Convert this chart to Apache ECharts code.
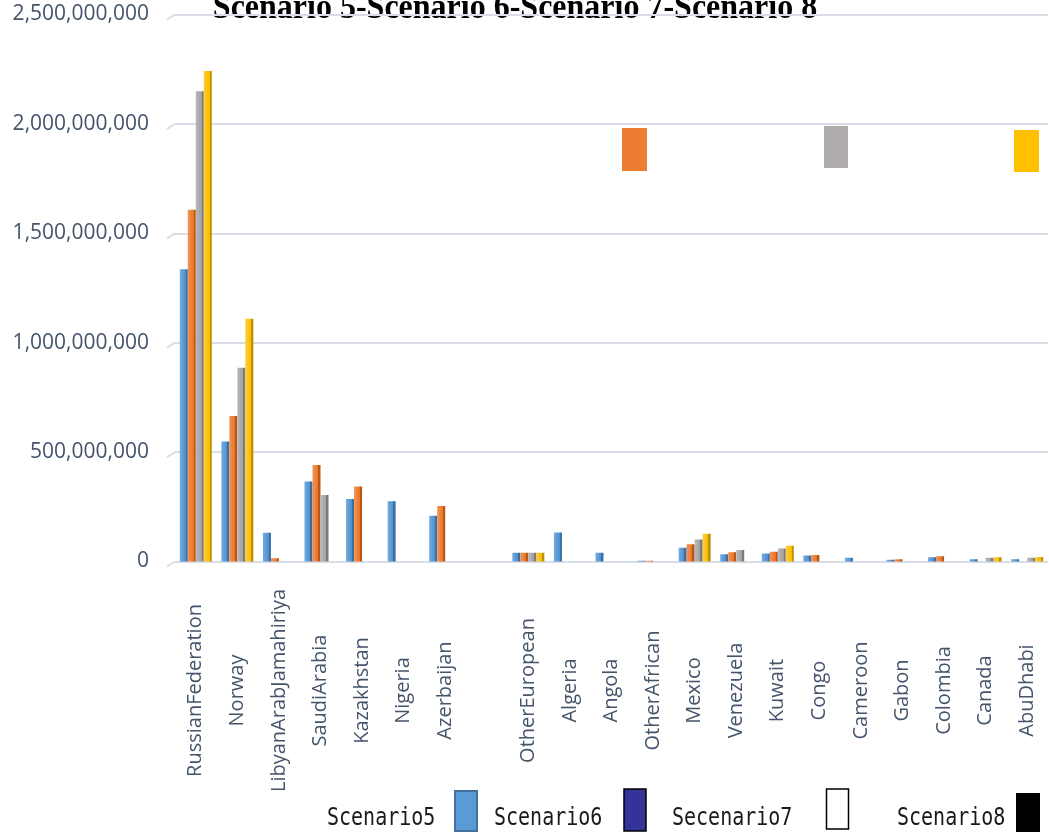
<!DOCTYPE html>
<html>
<head>
<meta charset="utf-8">
<script src="https://cdn.jsdelivr.net/npm/echarts@6/dist/echarts.min.js"></script>
<style>
  html, body { margin: 0; padding: 0; background: #ffffff; }
  #chart { width: 1049px; height: 832px; }
</style>
</head>
<body>
<div id="chart"></div>
<script>
// Producers (an empty slot separates the first group from the rest)
const categories = [
  'RussianFederation', 'Norway', 'LibyanArabJamahiriya', 'SaudiArabia', 'Kazakhstan',
  'Nigeria', 'Azerbaijan', '', 'OtherEuropean', 'Algeria', 'Angola', 'OtherAfrican',
  'Mexico', 'Venezuela', 'Kuwait', 'Congo', 'Cameroon', 'Gabon', 'Colombia', 'Canada', 'AbuDhabi'
];

const scenario5 = [1336000000, 548000000, 131000000, 366000000, 286000000, 275000000, 209000000, null,
  40000000, 132000000, 40000000, 3000000, 63000000, 33000000, 37000000, 27000000, 17000000,
  8000000, 19000000, 10000000, 10000000];
const scenario6 = [1608000000, 665000000, 15000000, 441000000, 343000000, null, 254000000, null,
  40000000, null, null, 3000000, 79000000, 42000000, 45000000, 30000000, null,
  10000000, 24000000, null, null];
const scenario7 = [2149000000, 885000000, null, 304000000, null, null, null, null,
  40000000, null, null, null, 101000000, 53000000, 59000000, null, null,
  null, null, 17000000, 17000000];
const scenario8 = [2242000000, 1109000000, null, null, null, null, null, null,
  40000000, null, null, null, 127000000, null, 72000000, null, null,
  null, null, 19000000, 20000000];

const seriesNames = ['Scenario5', 'Scenario6', 'Secenario7', 'Scenario8'];
const titleText = 'Scenario 5-Scenario 6-Scenario 7-Scenario 8';

const yMin = 0;
const yMax = 2500000000;
const yStep = 500000000;

// Shaded faces: lit front, darker right side
function face(light, base, side) {
  return new echarts.graphic.LinearGradient(0, 0, 1, 0, [
    { offset: 0, color: light },
    { offset: 0.72, color: base },
    { offset: 0.73, color: side },
    { offset: 1, color: side }
  ]);
}
const faces = [
  face('#72abde', '#4f8fd0', '#3a6fa3'),
  face('#f39456', '#ec7424', '#b5581a'),
  face('#bababa', '#a0a0a0', '#7b7b7b'),
  face('#ffcd3a', '#f6bd00', '#bf9100')
];
const values = [scenario5, scenario6, scenario7, scenario8];

const chart = echarts.init(document.getElementById('chart'), null, { renderer: 'canvas' });

const GRID_LEFT = 175;
const GRID_TOP = 14.5;
const GRID_BOTTOM = 270.5;

const legendFont = '20px "DejaVu Sans Mono"';
function legendText(x, text) {
  return {
    type: 'text', x: x, y: 818, scaleY: 1.25,
    style: { text: text, font: legendFont, fill: '#1a1a1a', verticalAlign: 'middle', align: 'left' }
  };
}

const option = {
  backgroundColor: '#ffffff',
  animation: false,
  grid: { left: GRID_LEFT, right: 1, top: GRID_TOP, bottom: GRID_BOTTOM, containLabel: false },
  xAxis: {
    type: 'category',
    data: categories,
    axisLine: { show: false },
    axisTick: { show: false },
    axisLabel: {
      interval: 0, rotate: 90, align: 'center', verticalAlign: 'middle', margin: 129,
      fontFamily: 'Open Sans', fontSize: 20, color: '#44546a'
    }
  },
  yAxis: {
    type: 'value',
    min: yMin, max: yMax, interval: yStep,
    axisLine: { show: false },
    axisTick: { show: false },
    splitLine: { lineStyle: { color: '#d9dde6', width: 2 } },
    axisLabel: {
      margin: 26, fontFamily: 'Open Sans', fontSize: 21, color: '#44546a',
      verticalAlign: 'middle', padding: [10, 0, 0, 0],
      formatter: v => v.toLocaleString('en-US')
    }
  },
  series: values.map((data, i) => ({
    name: seriesNames[i],
    type: 'bar',
    data: data,
    barWidth: 8,
    barGap: '0%',
    itemStyle: { color: faces[i] }
  })),
  graphic: [
    {
      type: 'text', x: 515, y: 8, scaleY: 1.15,
      style: { text: titleText, font: 'bold 32px "Liberation Serif"', fill: '#000', align: 'center', verticalAlign: 'middle' }
    },
    // loose colour keys near the top
    { type: 'rect', shape: { x: 622, y: 128, width: 25, height: 43 }, style: { fill: '#ed7d31' } },
    { type: 'rect', shape: { x: 824, y: 126, width: 24, height: 42 }, style: { fill: '#afabab' } },
    { type: 'rect', shape: { x: 1014, y: 130, width: 25, height: 42 }, style: { fill: '#ffc000' } },
    // bottom legend
    legendText(327, seriesNames[0]),
    { type: 'rect', shape: { x: 455, y: 791, width: 22, height: 40 }, style: { fill: '#5b9bd5', stroke: '#41719c', lineWidth: 2 } },
    legendText(494, seriesNames[1]),
    { type: 'rect', shape: { x: 624, y: 789, width: 22, height: 42 }, style: { fill: '#333399', stroke: '#000', lineWidth: 1.5 } },
    legendText(672, seriesNames[2]),
    { type: 'rect', shape: { x: 826.5, y: 789, width: 22, height: 40 }, style: { fill: '#ffffff', stroke: '#000', lineWidth: 1.5 } },
    legendText(897, seriesNames[3]),
    { type: 'rect', shape: { x: 1016, y: 793, width: 24, height: 40 }, style: { fill: '#000000' } }
  ]
};

chart.setOption(option);

// Slanted floor stubs at the left end of each gridline, placed through the value axis
const stubs = [];
for (let v = yMin; v <= yMax; v += yStep) {
  const y = chart.convertToPixel({ yAxisIndex: 0 }, v);
  stubs.push({
    type: 'line',
    shape: { x1: GRID_LEFT - 8, y1: y + 5, x2: GRID_LEFT, y2: y },
    style: { stroke: '#d9dde6', lineWidth: 2 }
  });
}
chart.setOption({ graphic: option.graphic.concat(stubs) });
</script>
</body>
</html>
